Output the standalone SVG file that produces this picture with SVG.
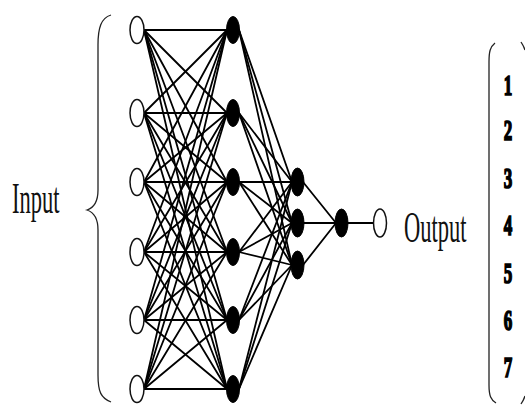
<svg xmlns="http://www.w3.org/2000/svg" width="525" height="405" viewBox="0 0 525 405">
<style>
.c line{stroke:#000;stroke-width:1.8;stroke-linecap:round}
.in{fill:#fff;stroke:#111;stroke-width:1.5}
.hd{fill:#000;stroke:#000;stroke-width:1}
.lbl{font-family:"Liberation Serif","Times New Roman",serif;font-size:22.5px;fill:#111}
.num{font-family:"Liberation Serif","Times New Roman",serif;font-size:17px;font-weight:900;fill:#000;text-anchor:middle;stroke:#000;stroke-width:1}
.br{fill:none;stroke:#222;stroke-width:1.3}
</style>
<rect width="525" height="405" fill="#fff"/>
<g id="connectors" class="c">
<line x1="144" y1="30" x2="227" y2="30"/><line x1="144" y1="30" x2="227" y2="113"/><line x1="144" y1="30" x2="227" y2="182"/><line x1="144" y1="30" x2="227" y2="252"/><line x1="144" y1="30" x2="227" y2="320"/><line x1="144" y1="30" x2="227" y2="389"/>
<line x1="144" y1="113" x2="227" y2="30"/><line x1="144" y1="113" x2="227" y2="113"/><line x1="144" y1="113" x2="227" y2="182"/><line x1="144" y1="113" x2="227" y2="252"/><line x1="144" y1="113" x2="227" y2="320"/><line x1="144" y1="113" x2="227" y2="389"/>
<line x1="144" y1="182" x2="227" y2="30"/><line x1="144" y1="182" x2="227" y2="113"/><line x1="144" y1="182" x2="227" y2="182"/><line x1="144" y1="182" x2="227" y2="252"/><line x1="144" y1="182" x2="227" y2="320"/><line x1="144" y1="182" x2="227" y2="389"/>
<line x1="144" y1="252" x2="227" y2="30"/><line x1="144" y1="252" x2="227" y2="113"/><line x1="144" y1="252" x2="227" y2="182"/><line x1="144" y1="252" x2="227" y2="252"/><line x1="144" y1="252" x2="227" y2="320"/><line x1="144" y1="252" x2="227" y2="389"/>
<line x1="144" y1="320" x2="227" y2="30"/><line x1="144" y1="320" x2="227" y2="113"/><line x1="144" y1="320" x2="227" y2="182"/><line x1="144" y1="320" x2="227" y2="252"/><line x1="144" y1="320" x2="227" y2="320"/><line x1="144" y1="320" x2="227" y2="389"/>
<line x1="144" y1="389" x2="227" y2="30"/><line x1="144" y1="389" x2="227" y2="113"/><line x1="144" y1="389" x2="227" y2="182"/><line x1="144" y1="389" x2="227" y2="252"/><line x1="144" y1="389" x2="227" y2="320"/><line x1="144" y1="389" x2="227" y2="389"/>
<line x1="239" y1="30" x2="292" y2="182"/><line x1="239" y1="30" x2="292" y2="223"/><line x1="239" y1="30" x2="292" y2="265"/>
<line x1="239" y1="113" x2="292" y2="182"/><line x1="239" y1="113" x2="292" y2="223"/><line x1="239" y1="113" x2="292" y2="265"/>
<line x1="239" y1="182" x2="292" y2="182"/><line x1="239" y1="182" x2="292" y2="223"/><line x1="239" y1="182" x2="292" y2="265"/>
<line x1="239" y1="252" x2="292" y2="182"/><line x1="239" y1="252" x2="292" y2="223"/><line x1="239" y1="252" x2="292" y2="265"/>
<line x1="239" y1="320" x2="292" y2="182"/><line x1="239" y1="320" x2="292" y2="223"/><line x1="239" y1="320" x2="292" y2="265"/>
<line x1="239" y1="389" x2="292" y2="182"/><line x1="239" y1="389" x2="292" y2="223"/><line x1="239" y1="389" x2="292" y2="265"/>
<line x1="303" y1="182" x2="336" y2="223"/><line x1="303" y1="223" x2="336" y2="223"/><line x1="303" y1="265" x2="336" y2="223"/>
<line x1="347" y1="223" x2="373" y2="223"/>
</g>
<g id="input-nodes">
<ellipse id="in1" class="in" cx="137" cy="30" rx="7" ry="13.5"/>
<ellipse id="in2" class="in" cx="137" cy="113" rx="7" ry="13.5"/>
<ellipse id="in3" class="in" cx="137" cy="182" rx="7" ry="13.5"/>
<ellipse id="in4" class="in" cx="137" cy="252" rx="7" ry="13.5"/>
<ellipse id="in5" class="in" cx="137" cy="320" rx="7" ry="13.5"/>
<ellipse id="in6" class="in" cx="137" cy="389" rx="7" ry="13.5"/>
</g>
<g id="hidden1-nodes">
<ellipse id="h1a" class="hd" cx="233" cy="30" rx="6.5" ry="13.5"/>
<ellipse id="h1b" class="hd" cx="233" cy="113" rx="6.5" ry="13.5"/>
<ellipse id="h1c" class="hd" cx="233" cy="182" rx="6.5" ry="13.5"/>
<ellipse id="h1d" class="hd" cx="233" cy="252" rx="6.5" ry="13.5"/>
<ellipse id="h1e" class="hd" cx="233" cy="320" rx="6.5" ry="13.5"/>
<ellipse id="h1f" class="hd" cx="233" cy="389" rx="6.5" ry="13.5"/>
</g>
<g id="hidden2-nodes">
<ellipse id="h2a" class="hd" cx="297.5" cy="182" rx="6.5" ry="14"/>
<ellipse id="h2b" class="hd" cx="297.5" cy="223" rx="6.5" ry="14"/>
<ellipse id="h2c" class="hd" cx="297.5" cy="265" rx="6.5" ry="14"/>
</g>
<g id="hidden3-node"><ellipse class="hd" cx="341.5" cy="223" rx="6.5" ry="14"/></g>
<g id="output-node"><ellipse class="in" cx="380" cy="223" rx="6.5" ry="14"/></g>
<g id="input-brace"><path class="br" d="M111 15 C101 18 98 28 98 45 L98 190 C98 203 93 208 87 210 C93 212 98 217 98 230 L98 375 C98 392 101 398 111 402"/></g>
<g id="input-label"><text class="lbl" transform="translate(12,213) scale(1,2)">Input</text></g>
<g id="output-label"><text class="lbl" transform="translate(404,242) scale(1,2)">Output</text></g>
<g id="output-bracket">
<path class="br" d="M495 43 C490 47 489 52 489 62 L489 385 C489 396 491 400 496 403"/>
<path class="br" d="M521 42 C523 45 524 47 525 50"/>
<path class="br" d="M521 404 C523 401 524 399 525 396"/>
</g>
<g id="output-classes">
<text class="num" transform="translate(508,95) scale(1,1.75)">1</text>
<text class="num" transform="translate(508,140) scale(1,1.75)">2</text>
<text class="num" transform="translate(508,188) scale(1,1.75)">3</text>
<text class="num" transform="translate(508,235) scale(1,1.75)">4</text>
<text class="num" transform="translate(508,283) scale(1,1.75)">5</text>
<text class="num" transform="translate(508,330) scale(1,1.75)">6</text>
<text class="num" transform="translate(508,377) scale(1,1.75)">7</text>
</g>
</svg>
